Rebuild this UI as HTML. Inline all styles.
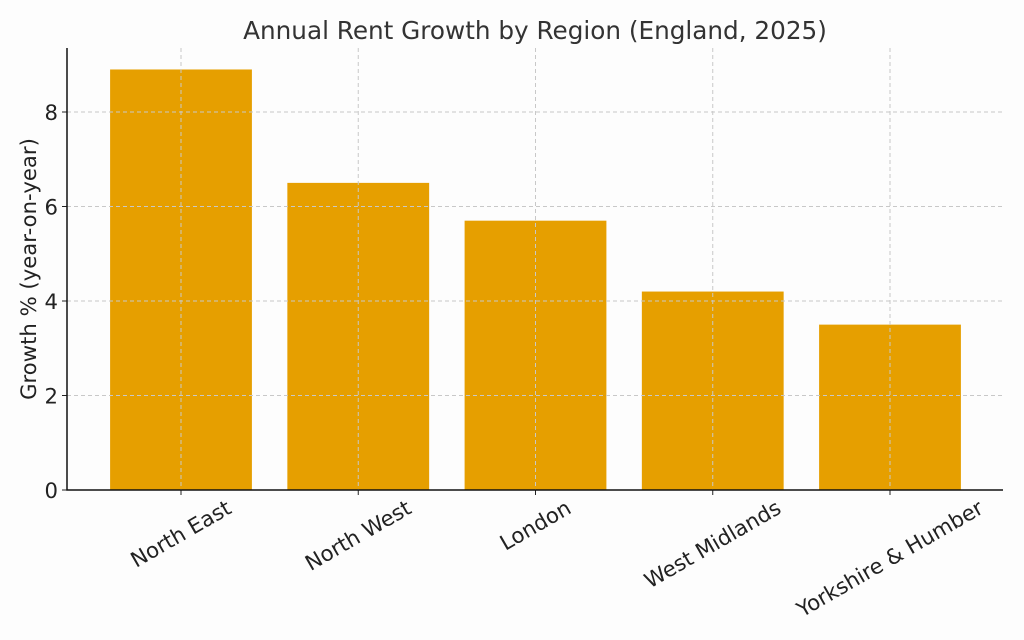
<!DOCTYPE html>
<html><head><meta charset="utf-8"><style>
body{margin:0;background:#fdfdfd;}
svg{display:block;font-family:"DejaVu Sans","Liberation Sans",sans-serif;}
</style></head><body>
<svg id="chart" width="1024" height="640" viewBox="0 0 1024 640">
<rect width="1024" height="640" fill="#fdfdfd"/>
<text x="535" y="39" text-anchor="middle" font-size="24.7" fill="#333">Annual Rent Growth by Region (England, 2025)</text>
<text transform="translate(36,269) rotate(-90)" text-anchor="middle" font-size="21.2" fill="#222">Growth % (year-on-year)</text>
<g id="bars"></g><g id="grid"></g><g id="axes"></g>
</svg>
<script>
const categories=["North East","North West","London","West Midlands","Yorkshire & Humber"];
const values=[8.9,6.5,5.7,4.2,3.5];
const yTicks=[0,2,4,6,8];
const NS="http://www.w3.org/2000/svg";
const L=67,R=1003,T=48,B=490;
const y=v=>B-v*47.25;
const x=i=>181+i*177.25;
const bw=141.8;
function mk(tag,attrs,parent){const e=document.createElementNS(NS,tag);for(const k in attrs)e.setAttribute(k,attrs[k]);document.getElementById(parent).appendChild(e);return e;}
categories.forEach((c,i)=>{
  const r=mk('rect',{x:x(i)-bw/2,y:y(values[i]),width:bw,height:B-y(values[i]),fill:'#E69F00'},'bars');
  
  
  const g=mk('line',{x1:x(i),x2:x(i),y1:T,y2:B,stroke:'#c8c8c8','stroke-dasharray':'4,3','stroke-width':1},'grid');
  
  
  const tk=mk('line',{x1:x(i),x2:x(i),y1:B,y2:B+5,stroke:'#222'},'axes');
  
  
  const t=mk('text',{'text-anchor':'middle','font-size':21.2,fill:'#222'},'axes');
  t.textContent=c;
  
  
  const w=t.getComputedTextLength(),h=21;
  const half=(w*0.5+h*0.866)/2;
  const cy=497+half;
  t.setAttribute('transform','translate('+x(i)+','+cy+') rotate(-30)');
  t.setAttribute('dy','7');
});
yTicks.forEach(v=>{
  if(v>0){const g=mk('line',{x1:L,x2:R,y1:y(v),y2:y(v),stroke:'#c8c8c8','stroke-dasharray':'4,3'},'grid');
  
  }
  const tk=mk('line',{x1:L-5,x2:L,y1:y(v),y2:y(v),stroke:'#222'},'axes');
  
  
  const t=mk('text',{x:L-9,y:y(v)+8,'text-anchor':'end','font-size':21.2,fill:'#222'},'axes');
  t.textContent=v;
  
  
});
const ax=mk('path',{d:'M'+L+','+T+'V'+B+'H'+R,fill:'none',stroke:'#111','stroke-width':1.5},'axes');


</script>
</body></html>
